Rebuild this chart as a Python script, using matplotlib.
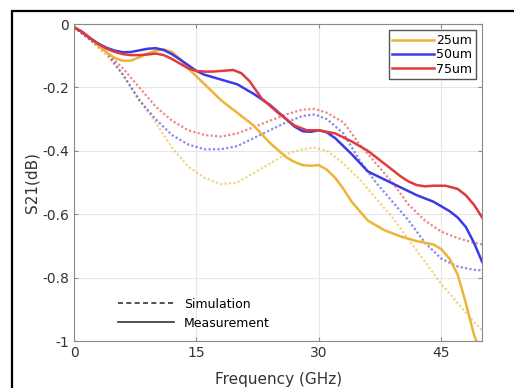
import matplotlib
matplotlib.use("Agg")
import matplotlib.pyplot as plt
from matplotlib.lines import Line2D
from matplotlib.patches import Rectangle

# measurement (solid)
f_25 = [0, 1, 2, 3, 4, 5, 6, 7, 8, 9, 10, 11, 12, 13, 14, 16, 18, 20, 22, 24, 26, 27, 28, 29, 30, 31, 32, 33, 34, 36, 38, 40,
        42, 43, 44, 45, 46, 47, 48, 49, 49.3]
m_25 = [-0.01, -0.025, -0.045, -0.068, -0.09, -0.107, -0.116, -0.115, -0.105, -0.093, -0.084, -0.08, -0.088, -0.11, -0.14,
        -0.19, -0.24, -0.28, -0.32, -0.375, -0.42, -0.435, -0.445, -0.447, -0.445, -0.46, -0.485, -0.52, -0.56, -0.62, -0.65,
        -0.67, -0.685, -0.69, -0.695, -0.71, -0.74, -0.79, -0.88, -0.98, -1.0]

f_50 = [0, 1, 2, 3, 4, 5, 6, 7, 8, 9, 10, 11, 12, 13, 14, 15, 16, 18, 20, 22, 24, 26, 27, 28, 29, 30, 31, 32, 34, 36, 38, 40, 42,
        44, 46, 47, 48, 49, 50]
m_50 = [-0.01, -0.025, -0.045, -0.062, -0.075, -0.084, -0.089, -0.088, -0.083, -0.078, -0.076, -0.082, -0.095, -0.112, -0.13,
        -0.148, -0.16, -0.175, -0.19, -0.22, -0.255, -0.30, -0.323, -0.338, -0.34, -0.335, -0.342, -0.36, -0.41, -0.465, -0.49,
        -0.515, -0.54, -0.56, -0.59, -0.61, -0.64, -0.69, -0.75]

f_75 = [0, 1, 2, 3, 4, 5, 6, 7, 8, 9, 10, 11, 12, 13, 14, 15, 16, 17, 18, 19.5, 20.5, 21.5, 23, 25, 27, 28.5, 30, 32, 34, 36,
        38, 40, 41, 42, 43, 44, 45.5, 47, 48, 49, 50]
m_75 = [-0.01, -0.025, -0.045, -0.063, -0.078, -0.088, -0.095, -0.098, -0.098, -0.096, -0.093, -0.098, -0.11, -0.125, -0.14,
        -0.148, -0.15, -0.15, -0.148, -0.145, -0.155, -0.18, -0.235, -0.28, -0.32, -0.335, -0.335, -0.345, -0.37, -0.40,
        -0.44, -0.48, -0.497, -0.508, -0.512, -0.51, -0.51, -0.52, -0.54, -0.57, -0.61]

# simulation (dotted)
f_sim = [0, 2, 4, 6, 8, 10, 12, 14, 16, 18, 20, 22, 24, 26, 28, 29.5, 31, 33, 35, 37, 39, 41, 43, 45, 47, 49, 50]
s_25 = [-0.01, -0.05, -0.1, -0.16, -0.24, -0.31, -0.39, -0.45, -0.485, -0.505, -0.5, -0.47, -0.44, -0.41, -0.395, -0.39, -0.4,
        -0.44, -0.49, -0.55, -0.61, -0.68, -0.75, -0.82, -0.88, -0.94, -0.965]
s_50 = [-0.01, -0.05, -0.09, -0.16, -0.24, -0.30, -0.35, -0.38, -0.395, -0.395, -0.385, -0.36, -0.335, -0.31, -0.29, -0.285, -0.3,
        -0.345, -0.43, -0.50, -0.56, -0.62, -0.69, -0.74, -0.765, -0.775, -0.777]
s_75 = [-0.01, -0.05, -0.09, -0.14, -0.2, -0.26, -0.305, -0.335, -0.35, -0.355, -0.345, -0.325, -0.305, -0.285, -0.27, -0.268, -0.28,
        -0.31, -0.38, -0.44, -0.50, -0.57, -0.62, -0.655, -0.675, -0.69, -0.695]

labels = ["25um", "50um", "75um"]
colors = ["#edb535", "#3a3ae6", "#e03a3a"]

fig = plt.figure(figsize=(5.14, 3.88), dpi=100)
ax = fig.add_axes([0.144, 0.121, 0.794, 0.817])

for fs, c in zip([s_25, s_50, s_75], colors):
    ax.plot(f_sim, fs, linestyle=(0, (1, 1)), color=c, lw=1.6, alpha=0.6)

h = []
for f, m, c, lab in zip([f_25, f_50, f_75], [m_25, m_50, m_75], colors, labels):
    l, = ax.plot(f, m, color=c, lw=1.8, label=lab)
    h.append(l)

ax.set_xlim(0, 50)
ax.set_ylim(-1, 0)
ax.set_xticks([0, 15, 30, 45])
ax.set_yticks([0, -0.2, -0.4, -0.6, -0.8, -1])
ax.set_yticklabels(["0", "-0.2", "-0.4", "-0.6", "-0.8", "-1"])
ax.grid(True, color="#e6e6e6", lw=0.8)
for s in ax.spines.values():
    s.set_color("#8a8a8a")
ax.tick_params(direction="in", colors="#8a8a8a", labelcolor="#333333", labelsize=10, top=True, right=True, length=3)
ax.set_xlabel("Frequency (GHz)", fontsize=11, color="#333333", labelpad=9)
ax.set_ylabel("S21(dB)", fontsize=11, color="#333333", labelpad=2)

leg1 = ax.legend(handles=h, loc="upper right", fontsize=9, handlelength=3.3, handletextpad=0.2,
                 labelspacing=0.1, borderpad=0.3, fancybox=False, edgecolor="#555555", framealpha=1)
leg1.get_frame().set_linewidth(1.0)
ax.add_artist(leg1)
h2 = [Line2D([], [], color="#333333", lw=1.2, linestyle=(0, (3, 2))),
      Line2D([], [], color="#333333", lw=1.2)]
ax.legend(h2, ["Simulation", "Measurement"], loc="lower left", bbox_to_anchor=(0.08, 0.0),
          fontsize=9, frameon=False, handlelength=4.5, labelspacing=0.5)

fig.patches.append(Rectangle((12 / 514, -0.1), 1.2, 0.1 + 1 - 11 / 388, transform=fig.transFigure,
                             fill=False, edgecolor="black", lw=1.6))

fig.savefig("out.png", dpi=100)
